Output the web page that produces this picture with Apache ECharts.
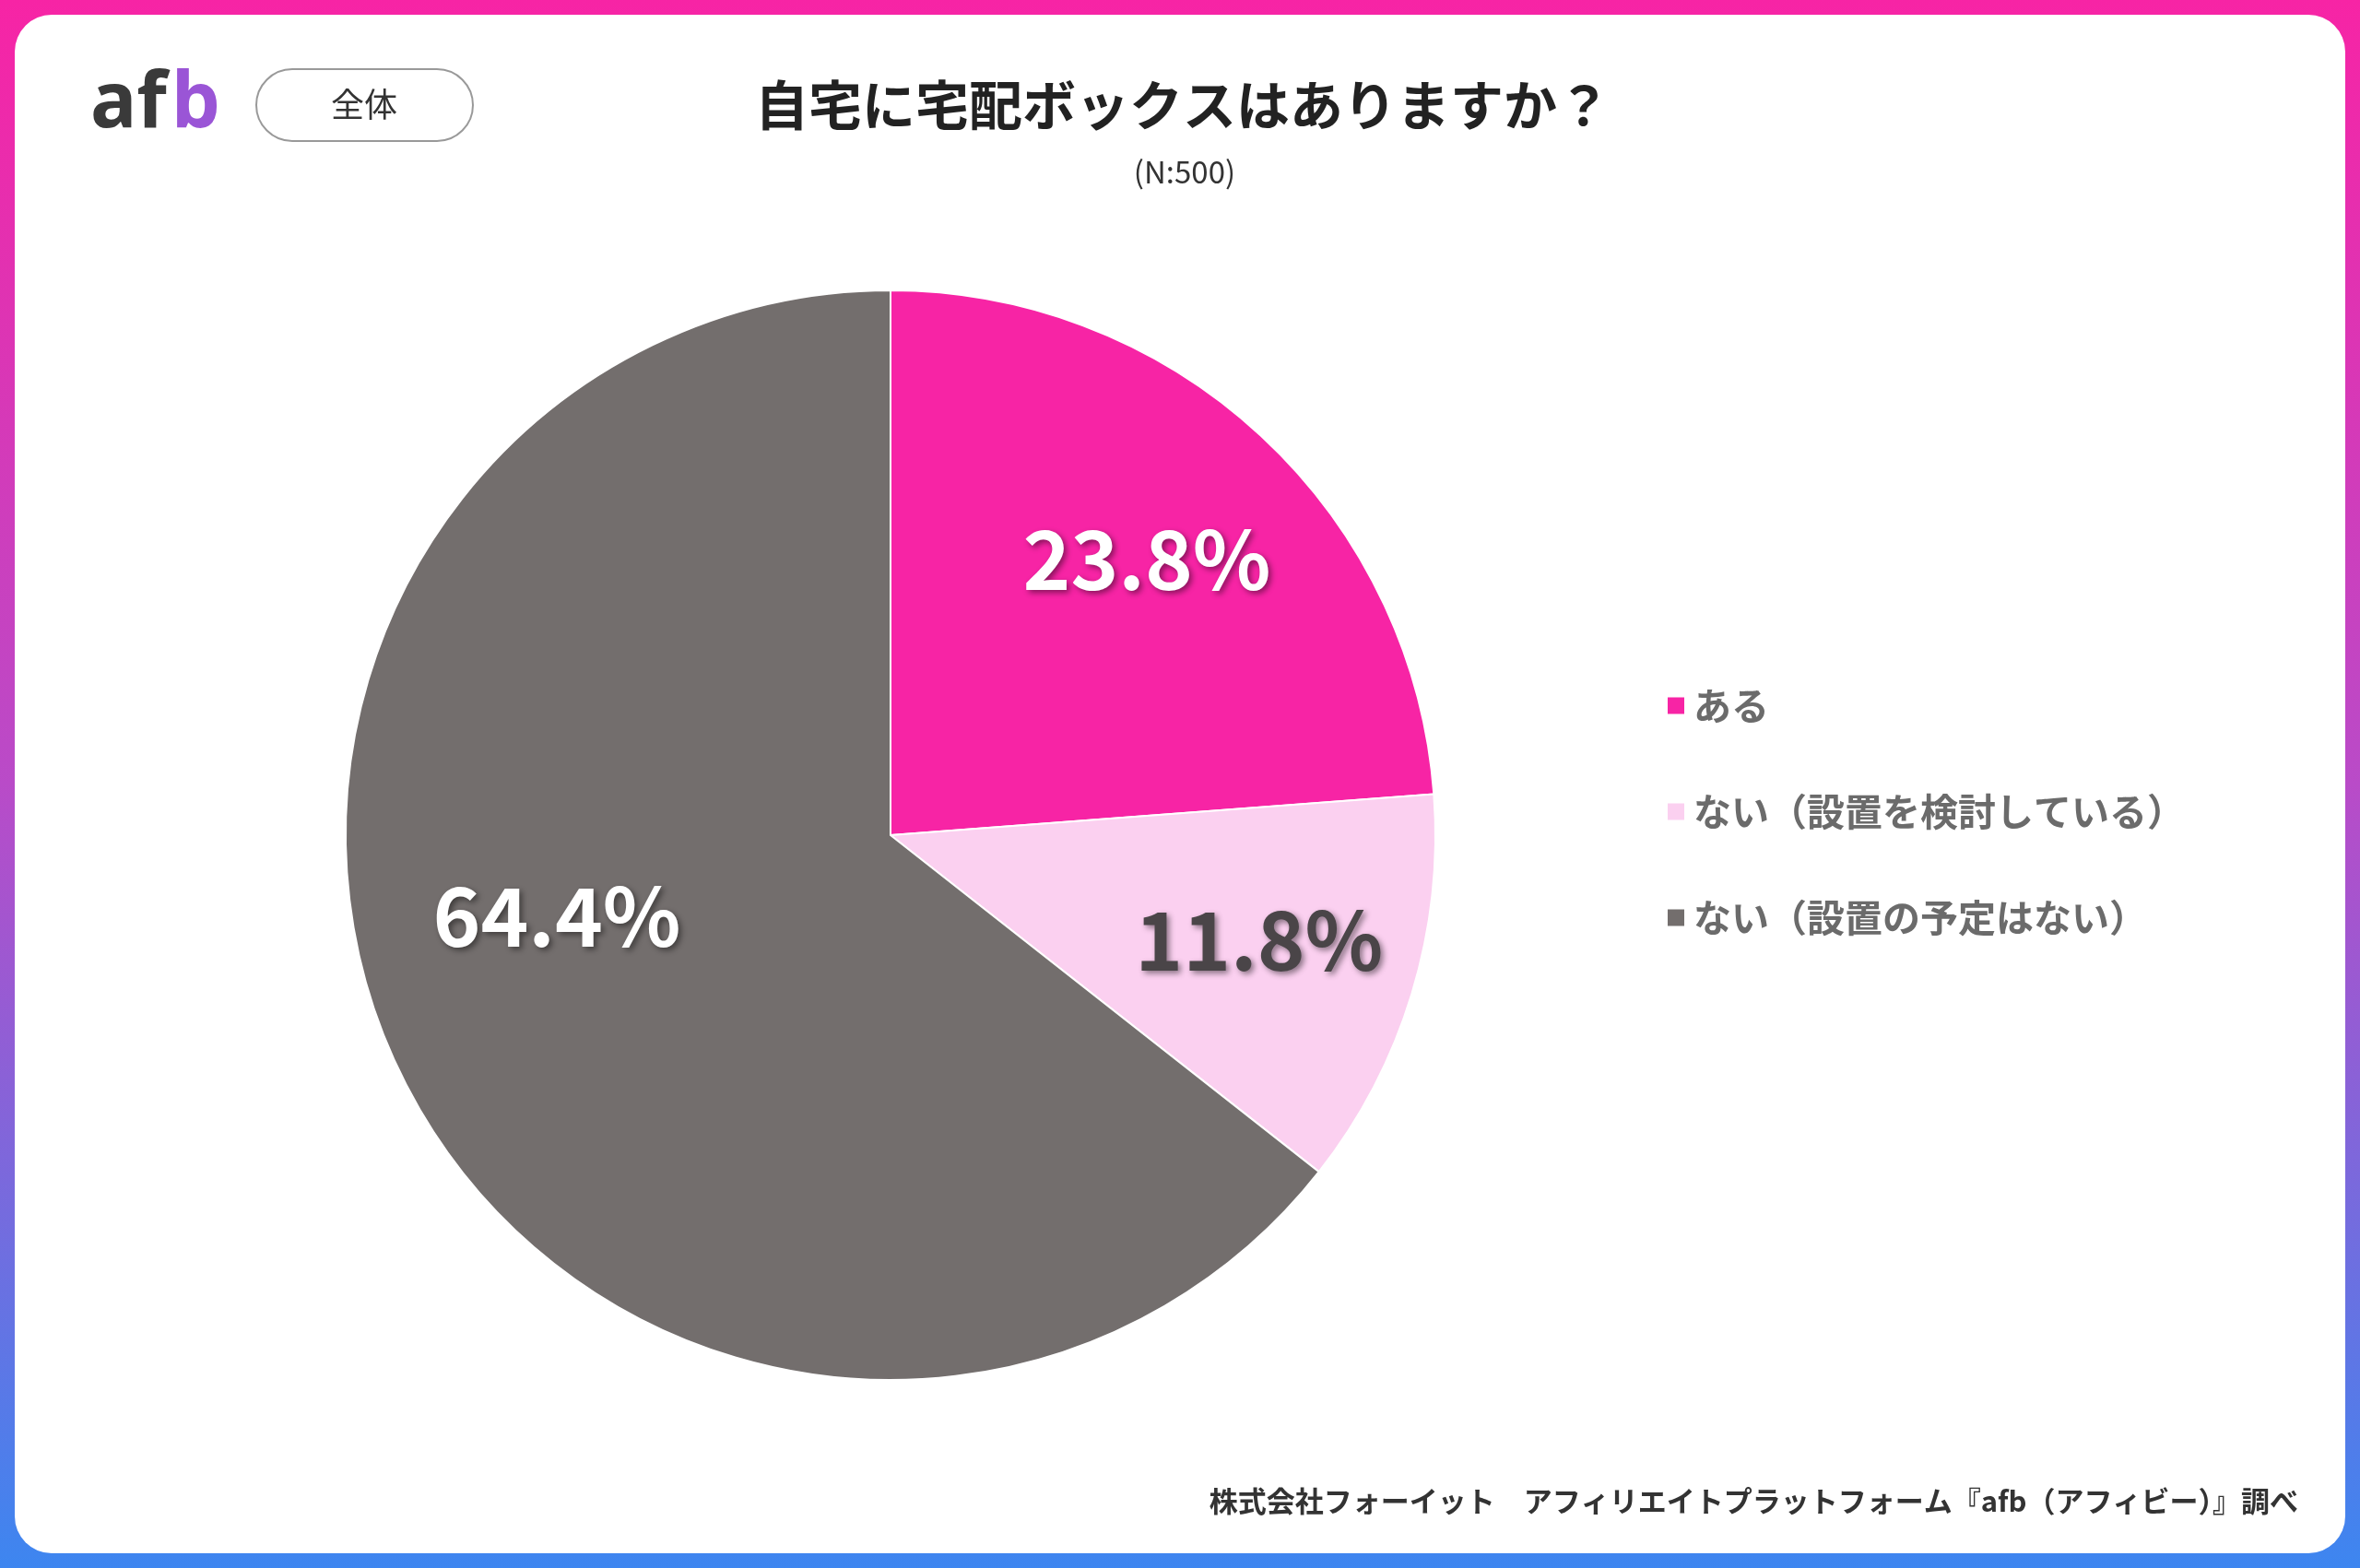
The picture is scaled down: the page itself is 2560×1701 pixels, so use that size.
<!DOCTYPE html>
<html><head><meta charset="utf-8">
<script src="https://cdn.jsdelivr.net/npm/echarts@6/dist/echarts.min.js"></script>
<style>
html,body{margin:0;padding:0;width:2560px;height:1701px;overflow:hidden;}
body{background:linear-gradient(180deg,#F724A5 0%,#B94BC8 50%,#3D86F0 100%);}
#frame{position:absolute;left:16px;top:16px;width:2528px;height:1669px;background:#fff;border-radius:40px;overflow:hidden;}
#chart{position:absolute;left:-16px;top:-16px;width:2560px;height:1701px;}
</style></head><body>
<div id="frame"><div id="chart"></div></div>
<script>
const categories = ['ある', 'ない（設置を検討している）', 'ない（設置の予定はない）'];
const values = [23.8, 11.8, 64.4];
const colors = ['#F724A5', '#FBD0F0', '#736E6D'];
const labelColors = ['#ffffff', '#4a4548', '#ffffff'];
const title = '自宅に宅配ボックスはありますか？';
const subtitle = '(N:500)';
const badge = '全体';
const footer = '株式会社フォーイット　アフィリエイトプラットフォーム『afb（アフィビー）』調べ';
const F = '"Noto Sans CJK JP","Noto Sans",sans-serif';
const chart = echarts.init(document.getElementById('chart'));
const cx = 966, cy = 906, k = [1.37, 1.4, 1.27];
const nudge = [[0, 0], [0, -8], [-21, -78]];
chart.setOption({
  animation: false,
  title: [
    {text: title, left: 1278, top: 80, textAlign: 'center', textStyle: {fontFamily: F, fontSize: 58, fontWeight: 'bold', color: '#222'}},
    {text: subtitle, left: 1280, top: 165, textAlign: 'center', textStyle: {fontFamily: F, fontSize: 33, fontWeight: 'normal', color: '#333'}},
    {text: footer, right: 62, top: 1608, textStyle: {fontFamily: F, fontSize: 31, fontWeight: 'bold', color: '#333'}}
  ],
  legend: {
    orient: 'vertical', left: 1802, top: 740, itemGap: 74, itemWidth: 20, itemHeight: 20, icon: 'rect',
    textStyle: {fontFamily: F, fontSize: 41, fontWeight: 'bold', color: '#6b6b6b', padding: [0, 0, 0, 4]}
  },
  graphic: [
    {type: 'text', x: 98, y: 114, style: {text: 'af', font: 'bold 84px "Noto Sans"', fill: '#3a3a3a', verticalAlign: 'middle'}},
    {type: 'text', x: 186, y: 114, style: {text: 'b', font: 'bold 84px "Noto Sans"', verticalAlign: 'middle', fill: '#9A55D6'}},
    {type: 'rect', x: 278, y: 75, shape: {width: 235, height: 78, r: 39}, style: {fill: '#fff', stroke: '#999', lineWidth: 2}},
    {type: 'text', x: 395, y: 113, style: {text: badge, font: '36px "Noto Sans CJK JP"', fill: '#333', align: 'center', verticalAlign: 'middle'}}
  ],
  series: [{
    type: 'pie', center: [cx, cy], radius: [0, 591], startAngle: 90, clockwise: true,
    color: colors, legendHoverLink: false,
    itemStyle: {borderColor: '#fff', borderWidth: 2},
    label: {position: 'inside', formatter: '{c}%', fontFamily: F, fontSize: 88, fontWeight: 'bold',
      textShadowColor: 'rgba(0,0,0,0.45)', textShadowBlur: 6, textShadowOffsetX: 3, textShadowOffsetY: 3},
    labelLayout: function (p) {
      const r = p.labelRect, i = p.dataIndex;
      const mx = r.x + r.width / 2, my = r.y + r.height / 2;
      return {x: cx + (mx - cx) * k[i] + nudge[i][0], y: cy + (my - cy) * k[i] + nudge[i][1]};
    },
    data: categories.map((c, i) => ({name: c, value: values[i], label: {color: labelColors[i]}}))
  }]
});
</script></body></html>
